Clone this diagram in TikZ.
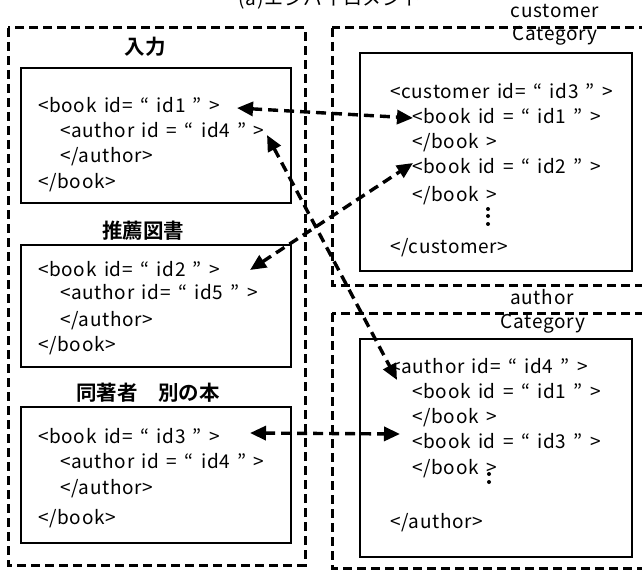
\documentclass[tikz,border=0pt]{standalone}
\usepackage{fontspec}
\setmainfont{Noto Sans CJK JP}[BoldFont={Noto Sans CJK JP Bold}]
\newfontfamily\codefont{Noto Sans CJK JP}[LetterSpace=3.5,WordSpace=1.5]
\usetikzlibrary{arrows.meta}

\begin{document}
\begin{tikzpicture}[x=1pt,y=-1pt,
  code/.style={anchor=base west, inner sep=0pt, font=\codefont\fontsize{19}{19}\selectfont},
  head/.style={anchor=base, inner sep=0pt, font=\fontsize{20.5}{20.5}\selectfont\bfseries},
  lbl/.style={anchor=base, inner sep=0pt, font=\codefont\fontsize{19}{19}\selectfont},
  group/.style={draw, line width=3pt, dash pattern=on 9pt off 5pt},
  doc/.style={draw, line width=1.4pt},
  link/.style={line width=3.4pt, dash pattern=on 10pt off 6pt,
    {Triangle[length=16pt,width=14pt]}-{Triangle[length=16pt,width=14pt]}},
  dot/.style={circle, fill, inner sep=0pt, minimum size=4pt}
]
\useasboundingbox (0,0) rectangle (642,572);

% title
\node[lbl] (title) at (330,6) {(a)エンバイロメント};

% group frames
\draw[group] (8,28) rectangle (305,565);
\draw[group] (332,28) rectangle (660,285);
\draw[group] (332,313) rectangle (660,568);

% left column: documents
\node[head] (h1) at (145,55) {入力};
\draw[doc] (21,68) rectangle (291,203);
\node[code] (b1a) at (38,113) {<book id= “ id1 ” >};
\node[code] (b1b) at (60,138) {<author id = “ id4 ” >};
\node[code] (b1c) at (60,163) {</author>};
\node[code] (b1d) at (38,189) {</book>};

\node[head] (h2) at (143,238) {推薦図書};
\draw[doc] (21,245) rectangle (291,367);
\node[code] (b2a) at (38,276) {<book id= “ id2 ” >};
\node[code] (b2b) at (60,299) {<author id= “ id5 ” >};
\node[code] (b2c) at (60,326) {</author>};
\node[code] (b2d) at (38,351) {</book>};

\node[head] (h3) at (148,400) {同著者　別の本};
\draw[doc] (21,407) rectangle (291,543);
\node[code] (b3a) at (38,443) {<book id= “ id3 ” >};
\node[code] (b3b) at (60,468) {<author id = “ id4 ” >};
\node[code] (b3c) at (60,494) {</author>};
\node[code] (b3d) at (38,524) {</book>};

% customer category
\node[lbl] (cl1) at (555,18) {customer};
\node[lbl] (cl2) at (555,41) {Category};
\draw[doc] (360,53) rectangle (632,271);
\node[code] (c1) at (390,99) {<customer id= “ id3 ” >};
\node[code] (c2) at (412,124) {<book id = “ id1 ” >};
\node[code] (c3) at (412,149) {</book >};
\node[code] (c4) at (412,174) {<book id = “ id2 ” >};
\node[code] (c5) at (412,201) {</book >};
\node[dot] (cd1) at (488,209) {};
\node[dot] (cd2) at (488,216) {};
\node[dot] (cd3) at (488,224) {};
\node[code] (c6) at (390,253) {</customer>};

% author category
\node[lbl] (al1) at (542,304) {author};
\node[lbl] (al2) at (543,328) {Category};
\draw[doc] (360,339) rectangle (632,557);
\node[code] (a1) at (390,373) {<author id= “ id4 ” >};
\node[code] (a2) at (412,398) {<book id = “ id1 ” >};
\node[code] (a3) at (412,423) {</book >};
\node[code] (a4) at (412,448) {<book id = “ id3 ” >};
\node[code] (a5) at (412,474) {</book >};
\node[dot] (ad1) at (489,474) {};
\node[dot] (ad2) at (489,482) {};
\node[code] (a6) at (390,528) {</author>};

% link end points
\coordinate (p1) at (237,108);
\coordinate (q1) at (413,118);
\coordinate (p2) at (250,270);
\coordinate (q2) at (413,163);
\coordinate (p3) at (267,135);
\coordinate (q3) at (397,380);
\coordinate (p4) at (250,433);
\coordinate (q4) at (400,434);

% id links
\draw[link] (p1) -- (q1);
\draw[link] (p2) -- (q2);
\draw[link] (p3) -- (q3);
\draw[link] (p4) -- (q4);
\end{tikzpicture}
\end{document}
